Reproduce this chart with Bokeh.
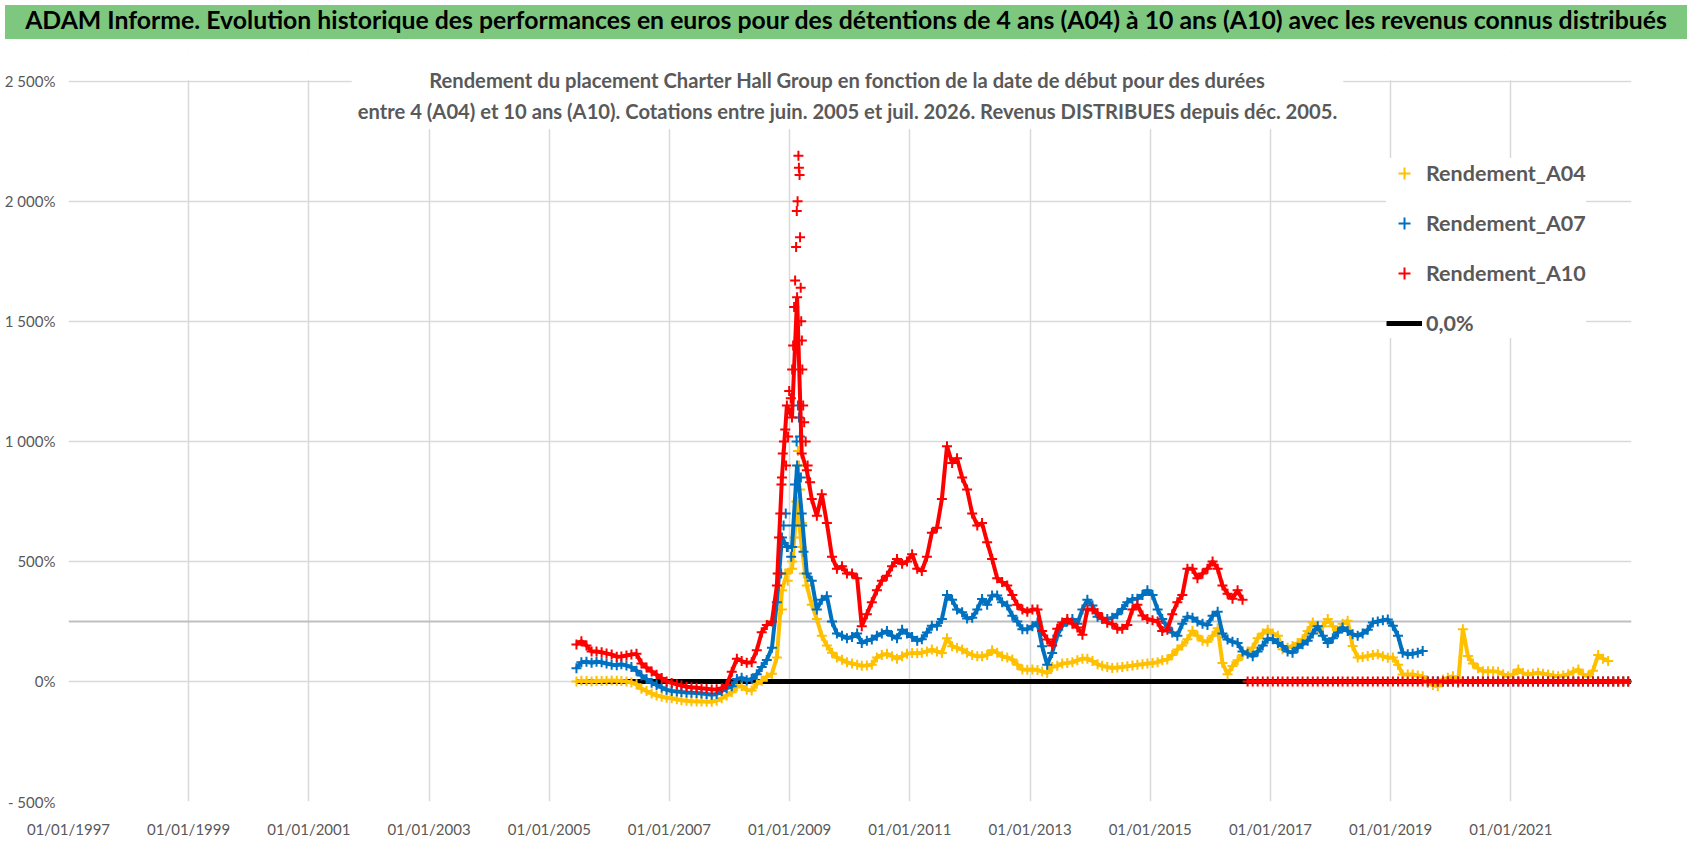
import pandas as pd
from bokeh.embed import file_html
from bokeh.layouts import column
from bokeh.models import (BoxAnnotation, ColumnDataSource, Div, FixedTicker, Label, Legend,
                          LegendItem, Span)
from bokeh.plotting import figure
from bokeh.resources import INLINE

TITLE = ("ADAM Informe. Evolution historique des performances en euros pour des détentions "
         "de 4 ans (A04) à 10 ans (A10) avec les revenus connus distribués")
SUBTITLE = ("Rendement du placement Charter Hall Group en fonction de la date de début pour des durées\n"
            "entre 4 (A04) et 10 ans (A10). Cotations entre juin. 2005 et juil. 2026. "
            "Revenus DISTRIBUES depuis déc. 2005.")

# monthly readings (mid-month), first month June 2005, in %
FIRST_MONTH = "2005-06-01"
LAST_MONTH = "2022-12-01"   # series are 0 after their last value

A04 = [
    0, 3, 2, 0, 3, 2, 3,
    4, 3, 2, 0, -4, -12, -30, -40, -50, -58, -64, -68,
    -70, -74, -78, -80, -82, -83, -83, -84, -84, -80, -70, -58,
    -45, -22, -19, -35, -38, -10, 3, 20, 32, 100, 380, 450,
    470, 750, 560, 400, 320, 260, 190, 150, 120, 100, 90, 80,
    75, 70, 65, 67, 70, 100, 110, 115, 105, 95, 105, 115,
    119, 118, 120, 125, 133, 125, 119, 180, 147, 140, 133, 120,
    110, 105, 105, 110, 130, 120, 105, 100, 91, 70, 50, 49,
    50, 48, 42, 35, 60, 65, 75, 77, 80, 88, 95, 95,
    85, 72, 65, 60, 56, 58, 60, 63, 66, 70, 72, 75,
    77, 80, 88, 91, 110, 133, 150, 176, 211, 190, 170, 165,
    190, 222, 77, 30, 64, 88, 110, 125, 140, 180, 200, 215,
    200, 190, 134, 140, 148, 160, 176, 210, 246, 218, 230, 260,
    230, 204, 240, 253, 148, 100, 102, 106, 110, 113, 105, 99,
    100, 70, 29, 29, 29, 25, 22, -6, -15, -20, 8, 15,
    22, -6, 218, 106, 75, 55, 43, 43, 43, 40, 30, 22,
    30, 50, 35, 29, 32, 36, 32, 29, 25, 22, 25, 30,
    40, 50, 30, 22, 45, 110, 95, 85,
]

A07 = [
    55, 80, 82, 78, 82, 80, 75,
    70, 68, 72, 66, 60, 45, 25, 10, -5, -15, -25, -35,
    -40, -42, -44, -46, -47, -48, -50, -52, -55, -52, -40, -28,
    -20, 10, 15, 5, 10, 30, 60, 89, 140, 330, 600, 560,
    560, 900, 700, 450, 420, 300, 340, 355, 250, 200, 190, 180,
    185, 200, 160, 170, 175, 190, 200, 210, 190, 180, 215, 200,
    185, 170, 176, 204, 232, 232, 260, 360, 340, 300, 288, 262,
    265, 300, 344, 320, 358, 358, 330, 316, 274, 250, 218, 218,
    230, 246, 147, 70, 119, 190, 232, 250, 260, 240, 300, 340,
    316, 270, 260, 260, 265, 280, 302, 330, 344, 345, 360, 380,
    360, 300, 260, 225, 204, 190, 240, 270, 265, 250, 240, 235,
    274, 290, 200, 175, 165, 160, 125, 115, 105, 125, 150, 178,
    176, 160, 148, 125, 120, 140, 155, 170, 200, 230, 190, 160,
    180, 204, 225, 210, 197, 190, 200, 215, 246, 250, 255, 258,
    232, 190, 120, 113, 115, 120, 127,
]

A10 = [
    154, 168, 150, 125, 125, 122, 117,
    112, 103, 104, 108, 112, 115, 75, 58, 42, 28, 14, 0,
    -6, -12, -17, -22, -24, -26, -28, -30, -33, -32, -28, -15,
    40, 95, 85, 78, 80, 130, 205, 235, 250, 400, 850, 1150,
    1100, 1600, 950, 880, 760, 690, 780, 660, 520, 470, 480, 450,
    450, 430, 230, 280, 330, 380, 420, 440, 480, 510, 490, 500,
    530, 470, 460, 520, 620, 640, 760, 980, 910, 930, 850, 800,
    700, 650, 660, 580, 510, 430, 414, 400, 360, 320, 300, 290,
    300, 300, 210, 175, 150, 220, 246, 260, 240, 225, 195, 300,
    300, 285, 265, 245, 240, 220, 220, 235, 300, 320, 275, 260,
    255, 250, 210, 215, 280, 330, 360, 470, 470, 430, 450, 470,
    500, 470, 400, 365, 345, 380, 340,
]

# extra readings around the 2008-2009 peak, where the daily points scatter
A04_PEAK_DATES = ["2008-11-15", "2008-12-05", "2008-12-20", "2009-01-15", "2009-01-28", "2009-02-10",
                  "2009-02-20", "2009-02-27", "2009-03-06", "2009-03-16", "2009-03-28"]
A04_PEAK = [300, 450, 420, 500, 600, 750, 960, 900, 800, 660, 450]

A07_PEAK_DATES = ["2008-11-10", "2008-11-25", "2008-12-08", "2008-12-20", "2009-01-10", "2009-01-22",
                  "2009-02-02", "2009-02-12", "2009-02-20", "2009-02-26", "2009-03-04", "2009-03-10",
                  "2009-03-18", "2009-03-26"]
A07_PEAK = [450, 650, 700, 560, 520, 650, 820, 1000, 1150, 1100, 1020, 850, 650, 540]

A10_PEAK_DATES = ["2008-10-20", "2008-10-28", "2008-11-05", "2008-11-12", "2008-11-20", "2008-11-27",
                  "2008-12-05", "2008-12-10", "2008-12-22", "2008-12-29", "2009-01-08", "2009-01-16",
                  "2009-01-22", "2009-01-28", "2009-02-03", "2009-02-09", "2009-02-13", "2009-02-18",
                  "2009-02-23", "2009-02-26", "2009-03-02", "2009-03-05", "2009-03-09", "2009-03-12",
                  "2009-03-16", "2009-03-19", "2009-03-24", "2009-03-30", "2009-04-08", "2009-04-20",
                  "2009-05-05"]
A10_PEAK = [450, 600, 700, 820, 950, 1000, 1050, 900, 1020, 1210, 1180, 1300, 1400, 1560, 1670, 1810,
            1960, 2000, 2190, 2140, 2110, 1850, 1640, 1500, 1420, 1300, 1150, 1080, 1000, 900, 830]

ZERO_DATES = ["2005-06-15", "2022-12-31"]
ZERO_VALUES = [0, 0]

Y_TICKS = [-500, 0, 500, 1000, 1500, 2000, 2500]
Y_LABELS = ["- 500%", "0%", "500%", "1 000%", "1 500%", "2 000%", "2 500%"]
X_TICK_YEARS = list(range(1997, 2022, 2))

COLORS = {"A04": "#FFC000", "A07": "#0070C0", "A10": "#FF0000"}
GREY_TEXT = "#595959"
FONT = "Lato"


def monthly_sources(vals):
    # quoted months, then the months after the last quote, where the return is 0
    months = pd.date_range(FIRST_MONTH, LAST_MONTH, freq="MS") + pd.Timedelta(days=14)
    n = len(vals)
    quoted = ColumnDataSource(dict(date=list(months[:n]), ret=list(vals)))
    tail = ColumnDataSource(dict(date=list(months[n:]), ret=[0] * (len(months) - n)))
    return quoted, tail


p = figure(
    width=1682, height=806,
    x_axis_type="datetime",
    x_range=(pd.Timestamp("1997-01-01"), pd.Timestamp("2023-01-04")),
    y_range=(-500, 2620),
    min_border_left=68, min_border_right=51, min_border_top=8, min_border_bottom=49,
    toolbar_location=None, output_backend="svg",
)
p.outline_line_color = None

# gridlines, stopping at the 2 500% line
p.ygrid.ticker = FixedTicker(ticks=Y_TICKS)
x_ticks = [pd.Timestamp(f"{y}-01-01").value / 1e6 for y in X_TICK_YEARS]
p.xgrid.ticker = FixedTicker(ticks=x_ticks)
p.grid.grid_line_color = "#D9D9D9"
p.grid.grid_line_width = 1.5
p.add_layout(BoxAnnotation(bottom=Y_TICKS[-1] + 4, fill_color="white", fill_alpha=1.0,
                           line_color=None, level="glyph"))
p.add_layout(Span(location=250, dimension="width", line_color="#BFBFBF", line_width=2, level="underlay"))

# axes
p.yaxis.ticker = FixedTicker(ticks=Y_TICKS)
p.yaxis.major_label_overrides = dict(zip(Y_TICKS, Y_LABELS))
p.xaxis.ticker = FixedTicker(ticks=x_ticks)
p.xaxis.major_label_overrides = {t: f"01/01/{y}" for t, y in zip(x_ticks, X_TICK_YEARS)}
for ax in (p.xaxis, p.yaxis):
    ax.axis_line_color = None
    ax.major_tick_line_color = None
    ax.minor_tick_line_color = None
    ax.major_tick_in = 0
    ax.major_tick_out = 0
    ax.major_label_text_font = FONT
    ax.major_label_text_font_size = "15px"
    ax.major_label_text_color = GREY_TEXT
p.yaxis.major_label_standoff = 13
p.xaxis.major_label_standoff = 18

# series: dense "+" points; a band under them stands in for the daily density
r0 = p.line(pd.to_datetime(ZERO_DATES), ZERO_VALUES, line_color="black", line_width=5)
renderers = {}
for name, vals, pdts, pvals in (("A04", A04, A04_PEAK_DATES, A04_PEAK),
                                ("A07", A07, A07_PEAK_DATES, A07_PEAK),
                                ("A10", A10, A10_PEAK_DATES, A10_PEAK)):
    quoted, tail = monthly_sources(vals)
    peak = ColumnDataSource(dict(date=pd.to_datetime(pdts), ret=pvals))
    for src in (quoted, tail):
        p.line("date", "ret", source=src, line_color=COLORS[name], line_width=4)
        r = p.scatter("date", "ret", source=src, marker="cross", size=10,
                      line_color=COLORS[name], line_width=2)
    renderers[name] = r
    p.scatter("date", "ret", source=peak, marker="cross", size=10,
              line_color=COLORS[name], line_width=2)

legend = Legend(
    items=[LegendItem(label="Rendement_A04", renderers=[renderers["A04"]]),
           LegendItem(label="Rendement_A07", renderers=[renderers["A07"]]),
           LegendItem(label="Rendement_A10", renderers=[renderers["A10"]]),
           LegendItem(label="0,0%", renderers=[r0])],
    location=(1318, 463),
    glyph_width=36, glyph_height=30, label_height=30, spacing=20,
    label_standoff=4, padding=23, margin=0,
    label_text_font=FONT, label_text_font_style="bold",
    label_text_font_size="21.5px", label_text_color=GREY_TEXT,
    border_line_color=None, background_fill_color="white", background_fill_alpha=1.0,
)
p.add_layout(legend)

p.add_layout(Label(
    x=779, y=706, x_units="screen", y_units="screen", text=SUBTITLE,
    text_align="center", text_baseline="middle", text_line_height=1.32,
    text_font=FONT, text_font_style="bold", text_font_size="20.2px",
    text_color=GREY_TEXT, background_fill_color="white", padding=6,
))

header = Div(
    text=(f'<div style="width:1682px;height:34px;line-height:30px;text-align:center;'
          f'font-family:{FONT};font-weight:bold;font-size:24.8px;color:black;'
          f'white-space:nowrap;overflow:hidden;">{TITLE}</div>'),
    width=1682, height=34,
    styles={"background-color": "#7DC87E"},
)

layout = column(header, p, spacing=0)
open("out.html", "w").write(file_html(layout, INLINE))
